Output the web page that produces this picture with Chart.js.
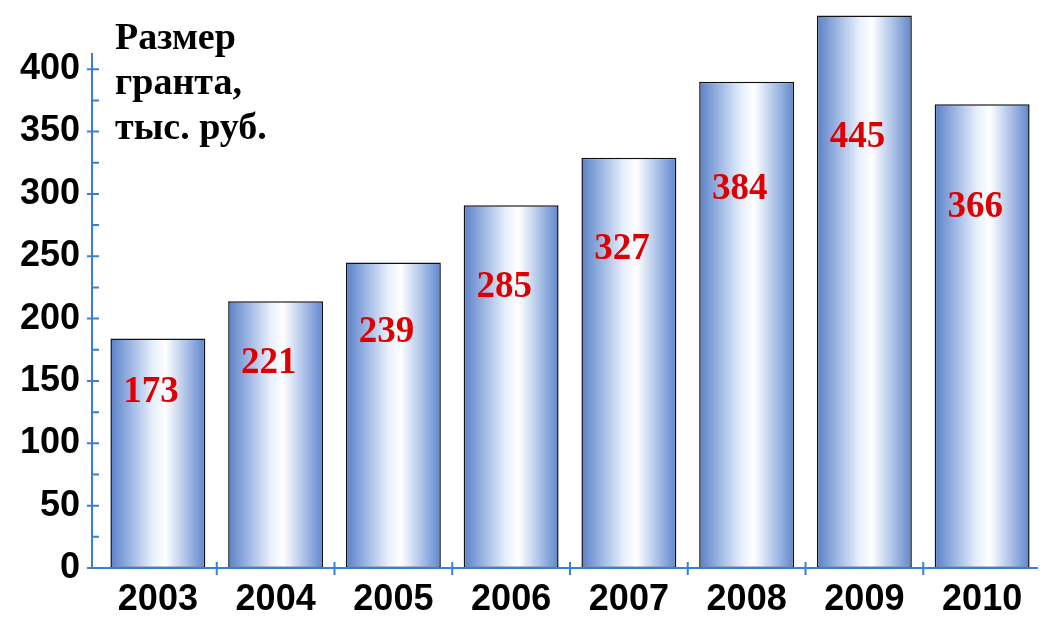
<!DOCTYPE html>
<html lang="ru">
<head>
<meta charset="utf-8">
<title>Размер гранта</title>
<script src="https://cdn.jsdelivr.net/npm/chart.js@4/dist/chart.umd.min.js"></script>
<style>
  html, body { margin: 0; padding: 0; background: #fff; }
  #wrap { width: 1063px; height: 631px; }
</style>
</head>
<body>
<div id="wrap"><canvas id="grantChart" width="1063" height="631"></canvas></div>
<script>
// Данные
const years = ['2003', '2004', '2005', '2006', '2007', '2008', '2009', '2010'];
// высота столбцов, как на картинке
const barValues = [184, 214, 245, 291, 329, 390, 443, 372];
// подписи внутри столбцов
const valueLabels = ['173', '221', '239', '285', '327', '384', '445', '366'];
const yMajorTicks = [0, 50, 100, 150, 200, 250, 300, 350, 400];
const titleLines = ['Размер', 'гранта,', 'тыс. руб.'];

const AXIS_BLUE = '#3b7fd4';
const BAR_PCT = 0.806;

// Градиент для столбца
function barGradient(c) {
    const chart = c.chart;
    const xs = chart.scales.x;
    if (!xs || !chart.chartArea) return '#9db5e3';
    const w = (xs.right - xs.left) / years.length * BAR_PCT;
    const cx = xs.getPixelForValue(c.dataIndex);
    const g = chart.ctx.createLinearGradient(cx - w / 2, 0, cx + w / 2, 0);
    g.addColorStop(0, '#5a80c8');
    g.addColorStop(0.22, '#9fb8e4');
    g.addColorStop(0.45, '#e8f0fb');
    g.addColorStop(0.58, '#ffffff');
    g.addColorStop(0.78, '#b3c7ea');
    g.addColorStop(1, '#5f86cc');
    return g;
}

// Оси и засечки
const axisPlugin = {
    id: 'axisLines',
    afterDatasetsDraw(chart) {
        const { ctx, chartArea, scales } = chart;
        const ys = scales.y, xs = scales.x;
        const ax = chartArea.left - 7;
        const ay = ys.getPixelForValue(0);
        ctx.save();
        ctx.strokeStyle = AXIS_BLUE;
        ctx.lineWidth = 2;
        ctx.beginPath();
        ctx.moveTo(ax, chartArea.top);
        ctx.lineTo(ax, ay);
        ctx.moveTo(ax - 4, ay);
        ctx.lineTo(chartArea.right - 3, ay);
        // засечки по Y
        for (let v = 0; v <= 400; v += 25) {
            const py = ys.getPixelForValue(v);
            if (v % 50 === 0) {
                ctx.moveTo(ax - 5, py);
                ctx.lineTo(ax + 7, py);
            } else {
                ctx.moveTo(ax, py);
                ctx.lineTo(ax + 7, py);
            }
        }
        // засечки по X
        const w = (xs.right - xs.left) / years.length;
        for (let k = 1; k < years.length; k++) {
            const px = xs.left + k * w;
            ctx.moveTo(px, ay - 6);
            ctx.lineTo(px, ay + 7);
        }
        ctx.stroke();
        ctx.restore();
    }
};

// Подписи значений и заголовок
const labelPlugin = {
    id: 'valueLabels',
    afterDatasetsDraw(chart) {
        const ctx = chart.ctx;
        const meta = chart.getDatasetMeta(0);
        ctx.save();
        ctx.fillStyle = '#dd0000';
        ctx.font = 'bold 37px "Liberation Serif", "Times New Roman", serif';
        ctx.textAlign = 'center';
        ctx.textBaseline = 'middle';
        meta.data.forEach((bar, i) => {
            const h = bar.base - bar.y;
            ctx.fillText(valueLabels[i], bar.x - 7, bar.y + h * 0.21 + 6);
        });
        ctx.fillStyle = '#000';
        ctx.font = 'bold 38px "Liberation Serif", "Times New Roman", serif';
        ctx.textAlign = 'left';
        ctx.textBaseline = 'alphabetic';
        titleLines.forEach((line, i) => {
            ctx.fillText(line, 115, 49 + i * 45);
        });
        ctx.restore();
    }
};

const chart = new Chart(document.getElementById('grantChart'), {
    type: 'bar',
    data: {
        labels: years,
        datasets: [{
            data: barValues,
            backgroundColor: barGradient,
            borderColor: '#111',
            borderWidth: 1.5,
            borderSkipped: false,
            barPercentage: BAR_PCT,
            categoryPercentage: 1,
            clip: false
        }]
    },
    options: {
        responsive: false,
        animation: false,
        layout: { padding: { top: 53, right: 22, left: 0, bottom: 0 } },
        plugins: {
            legend: { display: false },
            tooltip: { enabled: false }
        },
        scales: {
            x: {
                grid: { display: false, drawTicks: false },
                border: { display: false },
                afterFit: (s) => { s.height = 63; },
                ticks: {
                    color: '#000',
                    padding: 10,
                    font: { family: '"Liberation Sans", Arial, sans-serif', size: 36, weight: 'bold' }
                }
            },
            y: {
                min: 0,
                max: 413,
                grid: { display: false, drawTicks: false },
                border: { display: false },
                afterFit: (s) => { s.width = 99; },
                afterBuildTicks: (s) => {
                    s.ticks = yMajorTicks.map(v => ({ value: v }));
                },
                ticks: {
                    color: '#000',
                    padding: 19,
                    font: { family: '"Liberation Sans", Arial, sans-serif', size: 36, weight: 'bold' }
                }
            }
        }
    },
    plugins: [axisPlugin, labelPlugin]
});
</script>
</body>
</html>
